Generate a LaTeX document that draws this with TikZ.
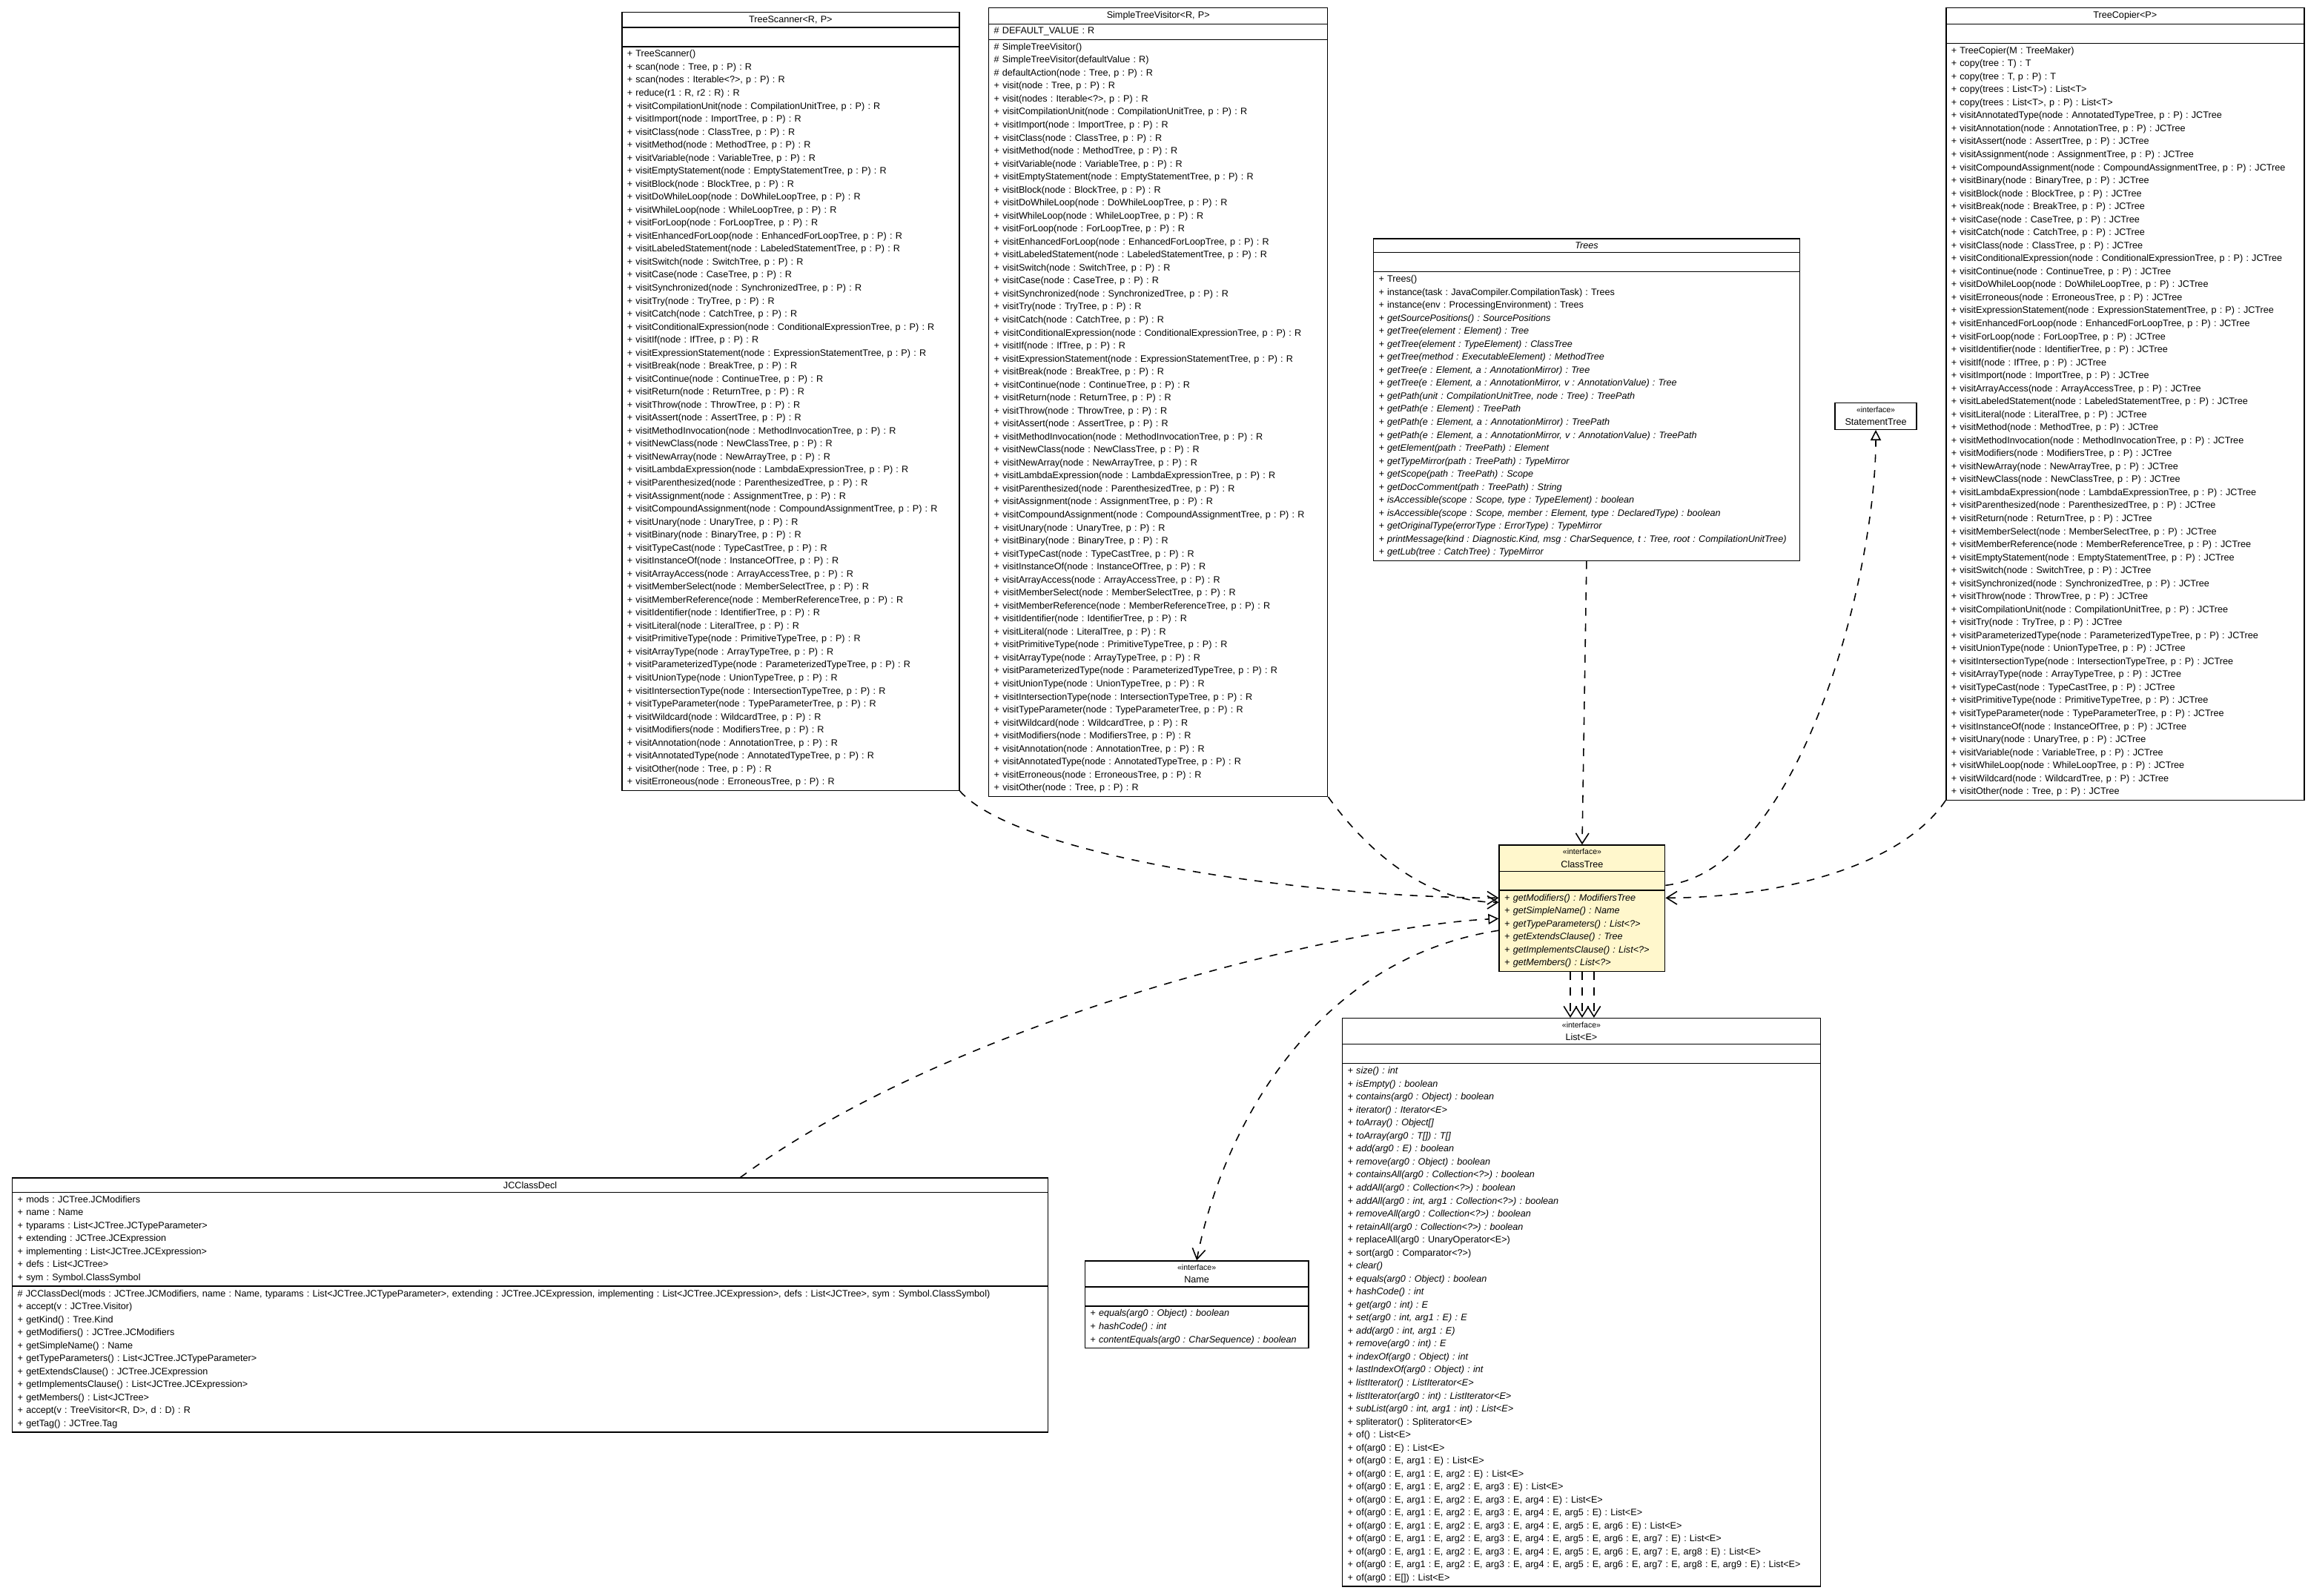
\documentclass[tikz,border=0pt]{standalone}
\usepackage{fontspec}
\setmainfont{Liberation Sans}
\frenchspacing
\usetikzlibrary{shapes.multipart,arrows.meta}
\newcommand\umlfont{\fontsize{3.6}{5}\selectfont\frenchspacing}
\newcommand\vis[2]{+ visit#1(node : #1Tree, p : P) : #2\\}
\newcommand\intf{{\fontsize{3}{4}\selectfont «interface»}\\}
\newcommand\nofields{\rule{0pt}{4.6pt}}
\definecolor{ctyellow}{RGB}{255,247,204}
\tikzset{
  umlbox/.style={draw, rectangle split, rectangle split parts=3, anchor=north west,
    inner xsep=2pt, inner ysep=1.2pt, font=\umlfont, align=left, line width=0.4pt},
  dep/.style={dashed, line width=0.45pt, -{Straight Barb[length=4pt,width=5pt]}},
  real/.style={dashed, line width=0.45pt, -{Triangle[open,length=4pt,width=4pt]}}
}
\begin{document}
\begin{tikzpicture}
\useasboundingbox (0,0) rectangle (31.2,-21.57);

% visitors
\node[umlbox, text width=4.42cm] (ts) at (8.40,-0.16) {{\centering TreeScanner<R, P>\par}
\nodepart{second}\nofields
\nodepart{third}+ TreeScanner()\\
+ scan(node : Tree, p : P) : R\\
+ scan(nodes : Iterable<?>, p : P) : R\\
+ reduce(r1 : R, r2 : R) : R\\
\vis{CompilationUnit}{R}\vis{Import}{R}\vis{Class}{R}\vis{Method}{R}\vis{Variable}{R}
\vis{EmptyStatement}{R}\vis{Block}{R}\vis{DoWhileLoop}{R}\vis{WhileLoop}{R}\vis{ForLoop}{R}
\vis{EnhancedForLoop}{R}\vis{LabeledStatement}{R}\vis{Switch}{R}\vis{Case}{R}
\vis{Synchronized}{R}\vis{Try}{R}\vis{Catch}{R}\vis{ConditionalExpression}{R}\vis{If}{R}
\vis{ExpressionStatement}{R}\vis{Break}{R}\vis{Continue}{R}\vis{Return}{R}\vis{Throw}{R}
\vis{Assert}{R}\vis{MethodInvocation}{R}\vis{NewClass}{R}\vis{NewArray}{R}
\vis{LambdaExpression}{R}\vis{Parenthesized}{R}\vis{Assignment}{R}\vis{CompoundAssignment}{R}
\vis{Unary}{R}\vis{Binary}{R}\vis{TypeCast}{R}\vis{InstanceOf}{R}\vis{ArrayAccess}{R}
\vis{MemberSelect}{R}\vis{MemberReference}{R}\vis{Identifier}{R}\vis{Literal}{R}
\vis{PrimitiveType}{R}\vis{ArrayType}{R}\vis{ParameterizedType}{R}\vis{UnionType}{R}
\vis{IntersectionType}{R}\vis{TypeParameter}{R}\vis{Wildcard}{R}\vis{Modifiers}{R}
\vis{Annotation}{R}\vis{AnnotatedType}{R}
+ visitOther(node : Tree, p : P) : R\\
+ visitErroneous(node : ErroneousTree, p : P) : R};

\node[umlbox, text width=4.44cm] (stv) at (13.36,-0.10) {{\centering SimpleTreeVisitor<R, P>\par}
\nodepart{second}\# DEFAULT\_VALUE : R
\nodepart{third}\# SimpleTreeVisitor()\\
\# SimpleTreeVisitor(defaultValue : R)\\
\# defaultAction(node : Tree, p : P) : R\\
+ visit(node : Tree, p : P) : R\\
+ visit(nodes : Iterable<?>, p : P) : R\\
\vis{CompilationUnit}{R}\vis{Import}{R}\vis{Class}{R}\vis{Method}{R}\vis{Variable}{R}
\vis{EmptyStatement}{R}\vis{Block}{R}\vis{DoWhileLoop}{R}\vis{WhileLoop}{R}\vis{ForLoop}{R}
\vis{EnhancedForLoop}{R}\vis{LabeledStatement}{R}\vis{Switch}{R}\vis{Case}{R}
\vis{Synchronized}{R}\vis{Try}{R}\vis{Catch}{R}\vis{ConditionalExpression}{R}\vis{If}{R}
\vis{ExpressionStatement}{R}\vis{Break}{R}\vis{Continue}{R}\vis{Return}{R}\vis{Throw}{R}
\vis{Assert}{R}\vis{MethodInvocation}{R}\vis{NewClass}{R}\vis{NewArray}{R}
\vis{LambdaExpression}{R}\vis{Parenthesized}{R}\vis{Assignment}{R}\vis{CompoundAssignment}{R}
\vis{Unary}{R}\vis{Binary}{R}\vis{TypeCast}{R}\vis{InstanceOf}{R}\vis{ArrayAccess}{R}
\vis{MemberSelect}{R}\vis{MemberReference}{R}\vis{Identifier}{R}\vis{Literal}{R}
\vis{PrimitiveType}{R}\vis{ArrayType}{R}\vis{ParameterizedType}{R}\vis{UnionType}{R}
\vis{IntersectionType}{R}\vis{TypeParameter}{R}\vis{Wildcard}{R}\vis{Modifiers}{R}
\vis{Annotation}{R}\vis{AnnotatedType}{R}
+ visitErroneous(node : ErroneousTree, p : P) : R\\
+ visitOther(node : Tree, p : P) : R};

\node[umlbox, text width=4.70cm] (tc) at (26.30,-0.10) {{\centering TreeCopier<P>\par}
\nodepart{second}\nofields
\nodepart{third}+ TreeCopier(M : TreeMaker)\\
+ copy(tree : T) : T\\
+ copy(tree : T, p : P) : T\\
+ copy(trees : List<T>) : List<T>\\
+ copy(trees : List<T>, p : P) : List<T>\\
\vis{AnnotatedType}{JCTree}\vis{Annotation}{JCTree}\vis{Assert}{JCTree}\vis{Assignment}{JCTree}
\vis{CompoundAssignment}{JCTree}\vis{Binary}{JCTree}\vis{Block}{JCTree}\vis{Break}{JCTree}
\vis{Case}{JCTree}\vis{Catch}{JCTree}\vis{Class}{JCTree}\vis{ConditionalExpression}{JCTree}
\vis{Continue}{JCTree}\vis{DoWhileLoop}{JCTree}\vis{Erroneous}{JCTree}
\vis{ExpressionStatement}{JCTree}\vis{EnhancedForLoop}{JCTree}\vis{ForLoop}{JCTree}
\vis{Identifier}{JCTree}\vis{If}{JCTree}\vis{Import}{JCTree}\vis{ArrayAccess}{JCTree}
\vis{LabeledStatement}{JCTree}\vis{Literal}{JCTree}\vis{Method}{JCTree}
\vis{MethodInvocation}{JCTree}\vis{Modifiers}{JCTree}\vis{NewArray}{JCTree}
\vis{NewClass}{JCTree}\vis{LambdaExpression}{JCTree}\vis{Parenthesized}{JCTree}
\vis{Return}{JCTree}\vis{MemberSelect}{JCTree}\vis{MemberReference}{JCTree}
\vis{EmptyStatement}{JCTree}\vis{Switch}{JCTree}\vis{Synchronized}{JCTree}\vis{Throw}{JCTree}
\vis{CompilationUnit}{JCTree}\vis{Try}{JCTree}\vis{ParameterizedType}{JCTree}
\vis{UnionType}{JCTree}\vis{IntersectionType}{JCTree}\vis{ArrayType}{JCTree}
\vis{TypeCast}{JCTree}\vis{PrimitiveType}{JCTree}\vis{TypeParameter}{JCTree}
\vis{InstanceOf}{JCTree}\vis{Unary}{JCTree}\vis{Variable}{JCTree}\vis{WhileLoop}{JCTree}
\vis{Wildcard}{JCTree}
+ visitOther(node : Tree, p : P) : JCTree};

% trees and interfaces
\node[umlbox, text width=5.62cm] (tr) at (18.56,-3.22) {{\centering\itshape Trees\par}
\nodepart{second}\nofields
\nodepart{third}+ Trees()\\
+ instance(task : JavaCompiler.CompilationTask) : Trees\\
+ instance(env : ProcessingEnvironment) : Trees\\
{\itshape + getSourcePositions() : SourcePositions\\
+ getTree(element : Element) : Tree\\
+ getTree(element : TypeElement) : ClassTree\\
+ getTree(method : ExecutableElement) : MethodTree\\
+ getTree(e : Element, a : AnnotationMirror) : Tree\\
+ getTree(e : Element, a : AnnotationMirror, v : AnnotationValue) : Tree\\
+ getPath(unit : CompilationUnitTree, node : Tree) : TreePath\\
+ getPath(e : Element) : TreePath\\
+ getPath(e : Element, a : AnnotationMirror) : TreePath\\
+ getPath(e : Element, a : AnnotationMirror, v : AnnotationValue) : TreePath\\
+ getElement(path : TreePath) : Element\\
+ getTypeMirror(path : TreePath) : TypeMirror\\
+ getScope(path : TreePath) : Scope\\
+ getDocComment(path : TreePath) : String\\
+ isAccessible(scope : Scope, type : TypeElement) : boolean\\
+ isAccessible(scope : Scope, member : Element, type : DeclaredType) : boolean\\
+ getOriginalType(errorType : ErrorType) : TypeMirror\\
+ printMessage(kind : Diagnostic.Kind, msg : CharSequence, t : Tree, root : CompilationUnitTree)\\
+ getLub(tree : CatchTree) : TypeMirror}};

\node[draw, anchor=north west, font=\umlfont, align=center, inner sep=1.5pt,
  minimum width=1.1cm, line width=0.4pt] (st) at (24.80,-5.44) {\intf StatementTree};

\node[umlbox, text width=2.1cm, fill=ctyellow] (ct) at (20.26,-11.42) {{\centering\intf ClassTree\par}
\nodepart{second}\nofields
\nodepart{third}{\itshape + getModifiers() : ModifiersTree\\
+ getSimpleName() : Name\\
+ getTypeParameters() : List<?>\\
+ getExtendsClause() : Tree\\
+ getImplementsClause() : List<?>\\
+ getMembers() : List<?>}};

\node[umlbox, text width=2.88cm] (nm) at (14.66,-17.04) {{\centering\intf Name\par}
\nodepart{second}\nofields
\nodepart{third}{\itshape + equals(arg0 : Object) : boolean\\
+ hashCode() : int\\
+ contentEquals(arg0 : CharSequence) : boolean}};

\node[umlbox, text width=6.32cm] (ls) at (18.14,-13.76) {{\centering\intf List<E>\par}
\nodepart{second}\nofields
\nodepart{third}{\itshape + size() : int\\
+ isEmpty() : boolean\\
+ contains(arg0 : Object) : boolean\\
+ iterator() : Iterator<E>\\
+ toArray() : Object[]\\
+ toArray(arg0 : T[]) : T[]\\
+ add(arg0 : E) : boolean\\
+ remove(arg0 : Object) : boolean\\
+ containsAll(arg0 : Collection<?>) : boolean\\
+ addAll(arg0 : Collection<?>) : boolean\\
+ addAll(arg0 : int, arg1 : Collection<?>) : boolean\\
+ removeAll(arg0 : Collection<?>) : boolean\\
+ retainAll(arg0 : Collection<?>) : boolean}\\
+ replaceAll(arg0 : UnaryOperator<E>)\\
+ sort(arg0 : Comparator<?>)\\
{\itshape + clear()\\
+ equals(arg0 : Object) : boolean\\
+ hashCode() : int\\
+ get(arg0 : int) : E\\
+ set(arg0 : int, arg1 : E) : E\\
+ add(arg0 : int, arg1 : E)\\
+ remove(arg0 : int) : E\\
+ indexOf(arg0 : Object) : int\\
+ lastIndexOf(arg0 : Object) : int\\
+ listIterator() : ListIterator<E>\\
+ listIterator(arg0 : int) : ListIterator<E>\\
+ subList(arg0 : int, arg1 : int) : List<E>}\\
+ spliterator() : Spliterator<E>\\
+ of() : List<E>\\
+ of(arg0 : E) : List<E>\\
+ of(arg0 : E, arg1 : E) : List<E>\\
+ of(arg0 : E, arg1 : E, arg2 : E) : List<E>\\
+ of(arg0 : E, arg1 : E, arg2 : E, arg3 : E) : List<E>\\
+ of(arg0 : E, arg1 : E, arg2 : E, arg3 : E, arg4 : E) : List<E>\\
+ of(arg0 : E, arg1 : E, arg2 : E, arg3 : E, arg4 : E, arg5 : E) : List<E>\\
+ of(arg0 : E, arg1 : E, arg2 : E, arg3 : E, arg4 : E, arg5 : E, arg6 : E) : List<E>\\
+ of(arg0 : E, arg1 : E, arg2 : E, arg3 : E, arg4 : E, arg5 : E, arg6 : E, arg7 : E) : List<E>\\
+ of(arg0 : E, arg1 : E, arg2 : E, arg3 : E, arg4 : E, arg5 : E, arg6 : E, arg7 : E, arg8 : E) : List<E>\\
+ of(arg0 : E, arg1 : E, arg2 : E, arg3 : E, arg4 : E, arg5 : E, arg6 : E, arg7 : E, arg8 : E, arg9 : E) : List<E>\\
+ of(arg0 : E[]) : List<E>};

\node[umlbox, text width=13.86cm] (jc) at (0.16,-15.92) {{\centering JCClassDecl\par}
\nodepart{second}+ mods : JCTree.JCModifiers\\
+ name : Name\\
+ typarams : List<JCTree.JCTypeParameter>\\
+ extending : JCTree.JCExpression\\
+ implementing : List<JCTree.JCExpression>\\
+ defs : List<JCTree>\\
+ sym : Symbol.ClassSymbol
\nodepart{third}\# JCClassDecl(mods : JCTree.JCModifiers, name : Name, typarams : List<JCTree.JCTypeParameter>, extending : JCTree.JCExpression, implementing : List<JCTree.JCExpression>, defs : List<JCTree>, sym : Symbol.ClassSymbol)\\
+ accept(v : JCTree.Visitor)\\
+ getKind() : Tree.Kind\\
+ getModifiers() : JCTree.JCModifiers\\
+ getSimpleName() : Name\\
+ getTypeParameters() : List<JCTree.JCTypeParameter>\\
+ getExtendsClause() : JCTree.JCExpression\\
+ getImplementsClause() : List<JCTree.JCExpression>\\
+ getMembers() : List<JCTree>\\
+ accept(v : TreeVisitor<R, D>, d : D) : R\\
+ getTag() : JCTree.Tag};

% connectors
\draw[dep] (ts.south east) .. controls +(0.8,-0.9) and +(-2.5,0) .. ([yshift=-0.72cm]ct.north west);
\draw[dep] (stv.south east) .. controls +(0.5,-0.7) and +(-1,0) .. ([yshift=-0.78cm]ct.north west);
\draw[dep] (tr.south) -- (ct.north);
\draw[dep] (tc.south west) .. controls +(-0.6,-0.9) and +(1.5,0) .. ([yshift=-0.72cm]ct.north east);
\draw[real] ([yshift=-0.55cm]ct.north east) .. controls +(1.8,0.2) and +(0,-2) .. (st.south);
\draw[real] ([xshift=2.84cm]jc.north) .. controls +(3,2.2) and +(-2,-0.1) .. ([yshift=-1cm]ct.north west);
\draw[dep] ([yshift=-1.16cm]ct.north west) .. controls +(-2.6,-0.4) and +(0.3,1.6) .. (nm.north);
\foreach \dx in {-0.16,0,0.16}
  \draw[dep] ([xshift=\dx cm]ct.south) -- ([xshift=\dx cm]ct.south |- ls.north);
\end{tikzpicture}
\end{document}
